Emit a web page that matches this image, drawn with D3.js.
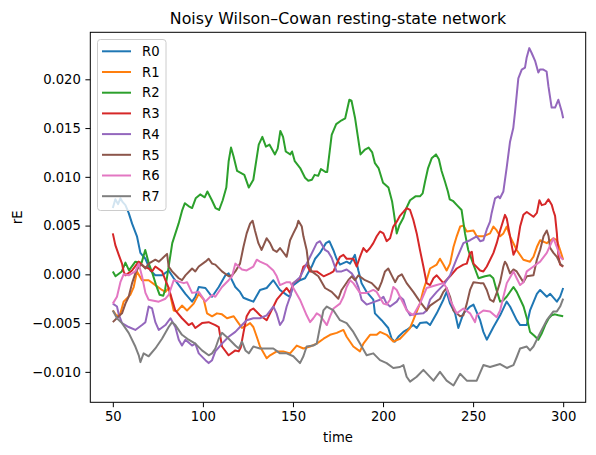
<!DOCTYPE html>
<html>
<head>
<meta charset="utf-8">
<script src="https://cdn.jsdelivr.net/npm/d3@7"></script>
<style>
  body { margin: 0; background: #fff; }
  text { font-family: "DejaVu Sans", sans-serif; }
</style>
</head>
<body>
<div id="chart-area"></div>
<script>
// series names and colours (matplotlib tab10)
var names = ["R0", "R1", "R2", "R3", "R4", "R5", "R6", "R7"];
var colors = ["#1f77b4", "#ff7f0e", "#2ca02c", "#d62728", "#9467bd", "#8c564b", "#e377c2", "#7f7f7f"];

var xTicks = [50, 100, 150, 200, 250, 300];
var yTicks = [-0.010, -0.005, 0.000, 0.005, 0.010, 0.015, 0.020];

// [time, rE]
var r0 = [[50,0.0068],[51.4,0.0077],[52.9,0.0072],[54.2,0.0078],[55.5,0.0074],[57,0.0071],[58.8,0.0063],[60.7,0.0052],[63.4,0.0039],[65.3,0.0022],[68.1,0.0016],[70.8,0.0004],[73.6,-0.0001],[77.3,-0.0001],[81,0.0004],[83.8,-0.0004],[87.5,-0.0013],[90.3,-0.0020],[94,-0.0028],[95.8,-0.0023],[97.7,-0.0013],[101.4,-0.0014],[105.1,-0.0023],[108.8,-0.0013],[112.5,-0.0001],[114.3,0.0001],[118,-0.0013],[120.6,-0.0018],[122.5,-0.0024],[125.2,-0.0026],[128,-0.0028],[131.7,-0.0016],[135.4,-0.0014],[139.1,-0.0006],[142.8,-0.0016],[146.5,-0.0021],[148.4,-0.0023],[150.2,-0.0011],[153.9,-0.0006],[156.7,-0.0004],[160.4,0.0008],[162.3,0.0016],[165,0.0022],[168.3,0.0032],[170.2,0.0034],[172.4,0.0025],[174.2,0.0016],[176.1,0.0010],[179.8,0.0013],[181.7,0.0011],[184.4,0.0020],[186.3,0.0004],[188.1,-0.0009],[190.9,-0.0018],[194.6,-0.0026],[195.5,-0.0040],[199.2,-0.0047],[202.9,-0.0055],[204.8,-0.0066],[206.6,-0.0069],[208.5,-0.0064],[211.3,-0.0059],[213.1,-0.0057],[216.8,-0.0052],[218.7,-0.0055],[220.5,-0.0050],[224.2,-0.0049],[226.1,-0.0052],[229.8,-0.0040],[233.5,-0.0026],[235.3,-0.0018],[237.2,-0.0030],[240,-0.0040],[241.8,-0.0055],[244.6,-0.0040],[248.3,-0.0033],[250.2,-0.0031],[253.9,-0.0047],[255.7,-0.0059],[257.6,-0.0067],[261.3,-0.0054],[265,-0.0042],[268.6,-0.0028],[270.5,-0.0033],[274.2,-0.0047],[276.1,-0.0052],[279.8,-0.0052],[281.6,-0.0037],[285.4,-0.0020],[287.2,-0.0016],[290.9,-0.0023],[292.8,-0.0020],[296.5,-0.0028],[298.3,-0.0023],[300,-0.0014]];

var r1 = [[50,-0.0037],[52.3,-0.0043],[54.2,-0.0040],[56,-0.0028],[59.7,-0.0021],[61.6,-0.0013],[63.4,0.0003],[66.2,-0.0006],[69.9,-0.0006],[73.6,-0.0011],[77.3,-0.0016],[79.2,-0.0018],[81,-0.0014],[83.8,-0.0037],[85.6,-0.0038],[88.4,-0.0032],[91.2,-0.0037],[94.9,-0.0030],[97.7,-0.0020],[100.5,-0.0026],[102.3,-0.0040],[105.1,-0.0043],[107.8,-0.0040],[110.6,-0.0041],[113.4,-0.0045],[117.1,-0.0043],[119,-0.0048],[121.7,-0.0055],[124.5,-0.0052],[126.2,-0.0050],[128,-0.0054],[129.9,-0.0064],[131.7,-0.0074],[135.4,-0.0086],[137.3,-0.0083],[141,-0.0079],[144.6,-0.0079],[148.4,-0.0081],[152.1,-0.0073],[155.8,-0.0076],[159.5,-0.0074],[163.2,-0.0071],[167,-0.0066],[170.6,-0.0062],[174.3,-0.0060],[178,-0.0057],[179.8,-0.0064],[183.5,-0.0074],[187.2,-0.0079],[189.1,-0.0071],[192.8,-0.0062],[196.5,-0.0062],[198.3,-0.0059],[202,-0.0062],[205.7,-0.0069],[209.4,-0.0066],[213.1,-0.0059],[215,-0.0055],[216.8,-0.0047],[220.5,-0.0030],[222.4,-0.0016],[224.2,-0.0006],[226.1,0.0006],[229.8,0.0010],[231.6,0.0016],[233.5,0.0010],[235.3,0.0004],[237.2,0.0011],[239.1,0.0028],[240.9,0.0039],[242.8,0.0049],[244.6,0.0050],[246.5,0.0044],[250.2,0.0045],[252,0.0039],[255.7,0.0039],[259.4,0.0042],[261.3,0.0049],[263.1,0.0045],[265,0.0039],[266.8,0.0042],[268.7,0.0049],[270.5,0.0039],[274.2,0.0025],[277.9,0.0015],[281.6,0.0013],[283.5,0.0018],[285.4,0.0028],[287.2,0.0035],[290.9,0.0032],[294.6,0.0037],[296.5,0.0035],[298.3,0.0025],[300,0.0015]];

var r2 = [[50,0.0003],[51.5,-0.0002],[55,0.0003],[57,0.0012],[59,0.0004],[62.5,0.0013],[66,0.0012],[68,0.0025],[70,0.0011],[72,0.0001],[74,-0.0011],[76,-0.0021],[78,-0.0022],[79,-0.0016],[81,0.0008],[83,0.0032],[86.5,0.0052],[88.4,0.0065],[90,0.0073],[92,0.0070],[94,0.0068],[96,0.0078],[98.5,0.0082],[101,0.0079],[102.5,0.0085],[105,0.0076],[107,0.0068],[109,0.0066],[111,0.0076],[113,0.0089],[114.3,0.0116],[115.6,0.0130],[117,0.0121],[119,0.0106],[121,0.0104],[123,0.0102],[125.5,0.0089],[128,0.0097],[131,0.0133],[133,0.0141],[135,0.0131],[137,0.0133],[140,0.0123],[141.5,0.0129],[143,0.0147],[144.5,0.0141],[146,0.0126],[148.5,0.0123],[149.5,0.0126],[151,0.0116],[154,0.0109],[156.7,0.0099],[158.5,0.0096],[160.5,0.0097],[162,0.0102],[164,0.0101],[165.5,0.0108],[168,0.0105],[169,0.0105],[171.5,0.0143],[174,0.0154],[177,0.0158],[179,0.0160],[181.3,0.0179],[182.5,0.0178],[184.5,0.0160],[187.5,0.0123],[190,0.0128],[192,0.0130],[194,0.0125],[195.5,0.0114],[197.5,0.0109],[200,0.0094],[203,0.0089],[205,0.0075],[206,0.0063],[207.6,0.0042],[209,0.0050],[211.3,0.0058],[213,0.0068],[215,0.0076],[218,0.0080],[220.5,0.0080],[222,0.0083],[223.3,0.0095],[225,0.0109],[227,0.0119],[229.4,0.0123],[231,0.0118],[232.5,0.0106],[234.4,0.0095],[236,0.0085],[237,0.0077],[239,0.0075],[241,0.0071],[243.6,0.0066],[245.5,0.0042],[247.3,0.0025],[250,0.0011],[253,-0.0004],[256.6,-0.0002],[259.4,-0.0001],[261.2,-0.0004],[263,-0.0016],[265,-0.0028],[266.5,-0.0027],[268.6,-0.0023],[272.4,-0.0013],[274.2,-0.0018],[276,-0.0025],[278,-0.0033],[280,-0.0046],[281.6,-0.0059],[284,-0.0063],[286.2,-0.0067],[288,-0.0061],[290,-0.0052],[292,-0.0045],[293.6,-0.0042],[295.5,-0.0041],[297.3,-0.0042],[300,-0.0043]];

var r3 = [[50,0.0042],[51.4,0.0030],[53.3,0.0020],[55.1,0.0011],[56,0.0003],[57,-0.0001],[60.7,0.0004],[64.4,0.0013],[67.1,0.0008],[69.9,0.0006],[71.8,0.0003],[73.6,0.0008],[77.3,0.0003],[79.2,-0.0006],[81,-0.0014],[82.9,-0.0026],[84.7,-0.0037],[88.4,-0.0045],[92.1,-0.0052],[94,-0.0050],[95.8,-0.0055],[99.5,-0.0050],[103.2,-0.0049],[106.9,-0.0052],[108.8,-0.0054],[110.6,-0.0074],[114.3,-0.0083],[118,-0.0078],[119.9,-0.0079],[121,-0.0075],[122.5,-0.0060],[124.3,-0.0043],[126.2,-0.0037],[128,-0.0035],[131.7,-0.0042],[135.4,-0.0047],[137.3,-0.0040],[141,-0.0026],[144.6,-0.0018],[146.5,-0.0014],[148.4,-0.0019],[150.2,-0.0009],[153.9,-0.0004],[155.8,0.0008],[157.6,0.0010],[159.5,0.0003],[163.2,0.0003],[167,-0.0002],[170.6,0.0001],[172.5,0.0003],[174.3,0.0011],[176.1,0.0018],[178,0.0020],[179.8,0.0016],[183.5,0.0016],[185.4,0.0008],[187.2,0.0018],[189.1,0.0027],[190.9,0.0023],[192.8,0.0027],[194.6,0.0032],[196.5,0.0039],[198.3,0.0044],[200.2,0.0042],[202,0.0034],[203.9,0.0037],[205.7,0.0049],[207.6,0.0054],[209.4,0.0060],[211.3,0.0064],[213.1,0.0068],[215,0.0066],[216.8,0.0056],[218.7,0.0042],[220.5,0.0025],[222.4,0.0008],[224.2,-0.0009],[226.1,-0.0011],[228,-0.0004],[229.8,-0.0001],[233.5,-0.0009],[237.2,-0.0002],[240.9,0.0006],[244.6,0.0010],[246.5,0.0011],[248.3,0.0022],[249.3,0.0023],[250.2,0.0011],[253.9,0.0004],[255.7,0.0003],[257.6,0.0008],[261.3,0.0022],[263.1,0.0032],[265,0.0045],[267.7,0.0061],[268.7,0.0057],[270.5,0.0039],[272.4,0.0020],[274.2,0.0027],[276.1,0.0049],[277.9,0.0061],[279.8,0.0064],[283.5,0.0059],[285.4,0.0063],[286.8,0.0076],[288.1,0.0071],[290,0.0072],[291.8,0.0077],[293.7,0.0071],[294.6,0.0065],[295.5,0.0060],[296.5,0.0042],[297.4,0.0018],[298.3,0.0010],[300,0.0008]];

var r4 = [[50,-0.0030],[52.3,-0.0033],[53.3,-0.0041],[55.1,-0.0050],[58.8,-0.0054],[62.5,-0.0057],[66.2,-0.0052],[68.1,-0.0049],[69.9,-0.0033],[71.8,-0.0035],[73.6,-0.0049],[75.5,-0.0057],[79.2,-0.0052],[82,-0.0045],[84.7,-0.0054],[86.6,-0.0067],[88.4,-0.0073],[90.3,-0.0067],[94,-0.0073],[95.8,-0.0071],[97.7,-0.0081],[101.4,-0.0088],[103.2,-0.0091],[105.1,-0.0088],[106.9,-0.0079],[110.6,-0.0071],[114.3,-0.0064],[118,-0.0059],[120.6,-0.0054],[124.3,-0.0047],[128,-0.0045],[131.7,-0.0045],[135.4,-0.0042],[139.1,-0.0033],[140.9,-0.0040],[142.8,-0.0052],[144.6,-0.0047],[146.5,-0.0033],[148.4,-0.0023],[150.2,-0.0009],[153.9,-0.0003],[157.6,0.0011],[159.5,0.0018],[163.2,0.0032],[165,0.0034],[167.8,0.0025],[169.6,0.0023],[171.5,0.0017],[174.2,0.0003],[177,0.0003],[179.8,0.0005],[182.6,0.0001],[184.4,-0.0004],[186.3,-0.0013],[188.1,-0.0026],[190.9,-0.0031],[195.5,-0.0028],[198.3,-0.0026],[200.2,-0.0023],[202,-0.0030],[203.9,-0.0033],[207.6,-0.0028],[209.4,-0.0023],[211.3,-0.0026],[213.1,-0.0036],[215,-0.0042],[216.8,-0.0041],[222.4,-0.0040],[224.2,-0.0037],[226.1,-0.0026],[229.8,-0.0018],[233.5,-0.0011],[237.2,-0.0001],[240.9,0.0016],[244.6,0.0032],[248.3,0.0035],[252,0.0039],[253.9,0.0034],[255.7,0.0035],[257.6,0.0046],[259.4,0.0054],[260.3,0.0063],[262.2,0.0078],[264,0.0080],[264.9,0.0078],[266.8,0.0085],[268.6,0.0109],[270.5,0.0136],[272.3,0.0150],[273.3,0.0167],[275.1,0.0201],[277,0.0210],[278.8,0.0212],[279.7,0.0222],[281.2,0.0232],[282.5,0.0227],[284.4,0.0219],[286.2,0.0207],[287.1,0.0210],[289,0.0210],[290.8,0.0208],[291.8,0.0193],[293.6,0.0171],[295.5,0.0171],[297.3,0.0179],[299.2,0.0167],[300,0.0160]];

var r5 = [[50,-0.0049],[53.3,-0.0043],[55.1,-0.0040],[57,-0.0030],[58.8,-0.0023],[60.7,-0.0009],[62.5,0.0001],[64.4,0.0008],[66.2,0.0010],[68.1,0.0006],[69.9,0.0011],[73.6,0.0015],[75.5,0.0013],[77.3,0.0016],[80.1,0.0021],[81,0.0008],[82.9,0.0003],[86.6,-0.0004],[88.4,-0.0006],[90.3,-0.0001],[94,0.0006],[95.8,0.0003],[97.7,0.0008],[101.4,0.0013],[103.2,0.0016],[105.1,0.0011],[106.9,0.0010],[110.6,0.0003],[114.3,-0.0002],[116.2,-0.0001],[118,0.0003],[120.6,0.0011],[122.5,0.0028],[124.3,0.0042],[126.2,0.0052],[127.6,0.0055],[128.9,0.0045],[130.8,0.0032],[132.6,0.0025],[135.4,0.0037],[137.3,0.0032],[139.1,0.0025],[141,0.0023],[142.8,0.0027],[146.5,0.0018],[148.4,0.0035],[150.2,0.0042],[152.1,0.0049],[153,0.0055],[154.9,0.0049],[155.8,0.0039],[157.6,0.0025],[158.6,0.0010],[160.4,0.0003],[164.1,-0.0002],[167.8,-0.0014],[171.5,-0.0018],[175.2,-0.0025],[177,-0.0016],[180.7,-0.0006],[182.6,-0.0002],[184.4,-0.0006],[186.3,-0.0001],[190,-0.0006],[193.7,-0.0009],[197.4,-0.0016],[199.2,-0.0008],[201.1,0.0003],[202.9,0.0006],[204.8,-0.0001],[206.7,-0.0008],[208.5,-0.0002],[210.4,0.0000],[213.1,-0.0009],[216.8,-0.0018],[220.5,-0.0028],[224.2,-0.0037],[226.1,-0.0032],[231.6,-0.0025],[233.5,-0.0018],[235.3,-0.0014],[237.2,-0.0023],[239.1,-0.0037],[242.8,-0.0043],[244.6,-0.0042],[246.5,-0.0030],[248.3,-0.0016],[250.2,-0.0008],[253.9,-0.0009],[255.7,-0.0009],[257.6,-0.0016],[259.4,-0.0026],[261.3,-0.0028],[263.1,-0.0019],[265,-0.0008],[266.8,0.0008],[267.7,0.0013],[268.7,0.0010],[270.5,0.0001],[272.4,0.0005],[274.2,0.0003],[277.9,-0.0008],[279.8,-0.0002],[283.5,-0.0001],[285.4,0.0015],[287.2,0.0025],[289.1,0.0039],[290.9,0.0045],[291.9,0.0039],[292.8,0.0027],[294.6,0.0022],[296.5,0.0018],[298.3,0.0011],[300,0.0008]];

var r6 = [[50,-0.0030],[52.3,-0.0023],[54.2,-0.0008],[56,0.0000],[58.8,-0.0001],[62.5,0.0003],[64.4,0.0011],[66.2,-0.0002],[68.1,-0.0019],[69.9,-0.0026],[75.5,-0.0028],[79.2,-0.0025],[81,-0.0021],[83.8,-0.0006],[87.5,-0.0008],[89.4,-0.0009],[91.2,-0.0008],[94,-0.0019],[97.7,-0.0018],[101.4,-0.0028],[105.1,-0.0021],[106.9,-0.0023],[110.6,-0.0013],[114.3,-0.0006],[116.2,-0.0002],[118,0.0011],[121.7,0.0005],[124.3,0.0004],[128,0.0008],[129.9,0.0015],[131.7,0.0013],[135.4,0.0010],[139.1,0.0004],[141,-0.0002],[142.8,-0.0011],[146.5,-0.0008],[148.4,-0.0008],[150.2,-0.0014],[153.9,-0.0026],[157.6,-0.0042],[159.5,-0.0049],[161.3,-0.0045],[163.2,-0.0040],[165,-0.0042],[168.8,-0.0052],[170.6,-0.0043],[172.5,-0.0035],[176.1,-0.0030],[178,-0.0023],[179.8,-0.0013],[181.7,-0.0006],[183.5,-0.0009],[187.2,-0.0019],[190.9,-0.0019],[194.6,-0.0016],[196.5,-0.0018],[200.2,-0.0030],[202,-0.0031],[203.9,-0.0026],[205.7,-0.0013],[207.6,-0.0016],[209.4,-0.0023],[211.3,-0.0030],[213.1,-0.0037],[216.8,-0.0042],[220.5,-0.0030],[224.2,-0.0014],[229.8,-0.0011],[233.5,-0.0009],[235.3,-0.0014],[237.2,-0.0026],[240.9,-0.0040],[244.6,-0.0035],[248.3,-0.0040],[251.1,-0.0049],[252,-0.0042],[255.7,-0.0037],[259.4,-0.0038],[263.1,-0.0044],[265,-0.0037],[266.8,-0.0023],[268.7,-0.0009],[272.4,0.0003],[274.2,-0.0004],[276.1,-0.0011],[277.9,-0.0008],[279.8,0.0003],[283.5,0.0008],[287.2,0.0013],[290.9,0.0022],[294.6,0.0037],[296.5,0.0028],[298.3,0.0018],[300,0.0015]];

var r7 = [[50,-0.0037],[52.3,-0.0045],[55.1,-0.0050],[58.8,-0.0060],[62.5,-0.0074],[64.4,-0.0083],[65.3,-0.0090],[67.1,-0.0081],[69.9,-0.0084],[73.6,-0.0076],[77.3,-0.0066],[81,-0.0054],[82.9,-0.0049],[84.7,-0.0052],[88.4,-0.0062],[92.1,-0.0067],[95.8,-0.0071],[99.5,-0.0078],[103.2,-0.0083],[105.1,-0.0081],[106.9,-0.0076],[108.8,-0.0066],[110.6,-0.0060],[114.3,-0.0066],[118,-0.0073],[119.9,-0.0076],[121.7,-0.0069],[123.6,-0.0078],[125.5,-0.0081],[128,-0.0074],[131.7,-0.0076],[135.4,-0.0076],[139.1,-0.0076],[142.8,-0.0081],[146.5,-0.0081],[150.2,-0.0084],[153.9,-0.0091],[155.8,-0.0084],[157.6,-0.0074],[161.3,-0.0073],[163.2,-0.0071],[165,-0.0054],[166.9,-0.0037],[168.8,-0.0033],[172.5,-0.0037],[176.1,-0.0047],[179.8,-0.0050],[183.5,-0.0059],[187.2,-0.0071],[190.9,-0.0083],[194.6,-0.0081],[198.3,-0.0088],[202,-0.0091],[205.7,-0.0096],[209.4,-0.0095],[211.3,-0.0093],[213.1,-0.0105],[215,-0.0110],[218.7,-0.0105],[222.4,-0.0098],[228,-0.0109],[231.6,-0.0100],[235.3,-0.0109],[239.1,-0.0114],[242.8,-0.0102],[246.5,-0.0109],[252,-0.0109],[255.7,-0.0093],[259.4,-0.0095],[265,-0.0092],[268.7,-0.0096],[272.4,-0.0093],[274.2,-0.0085],[276.1,-0.0076],[279.8,-0.0074],[281.6,-0.0078],[283.5,-0.0074],[287.2,-0.0060],[290.9,-0.0047],[294.6,-0.0038],[296.5,-0.0038],[298.3,-0.0033],[300,-0.0025]];

var series = [r0, r1, r2, r3, r4, r5, r6, r7];

var W = 596, H = 455;
var plot = { left: 90.3, right: 585.7, top: 32.3, bottom: 402.3 };

var svg = d3.select("#chart-area").append("svg")
    .attr("width", W)
    .attr("height", H);

var x = d3.scaleLinear()
    .domain([37.5, 312.5])
    .range([plot.left, plot.right]);

var y = d3.scaleLinear()
    .domain([-0.01312, 0.02482])
    .range([plot.bottom, plot.top]);

var line = d3.line()
    .x(d => x(d[0]))
    .y(d => y(d[1]));

// lines
svg.append("g").selectAll("path")
    .data(series)
    .enter()
    .append("path")
    .attr("d", line)
    .attr("fill", "none")
    .attr("stroke", (d, i) => colors[i])
    .attr("stroke-width", 2)
    .attr("stroke-linejoin", "round");

// axes
var xAxis = svg.append("g")
    .attr("transform", `translate(0,${plot.bottom})`)
    .call(d3.axisBottom(x).tickValues(xTicks).tickSize(4.9).tickPadding(4).tickSizeOuter(0));
var yAxis = svg.append("g")
    .attr("transform", `translate(${plot.left},0)`)
    .call(d3.axisLeft(y).tickValues(yTicks).tickFormat(d3.format(".3f")).tickSize(4.9).tickPadding(4.5).tickSizeOuter(0));

[xAxis, yAxis].forEach(g => {
    g.select(".domain").remove();
    g.selectAll("line").attr("stroke", "#000").attr("stroke-width", 1);
    g.selectAll("text")
        .attr("fill", "#000")
        .style("font-family", "DejaVu Sans")
        .style("font-size", "13.2px");
});

// frame
svg.append("rect")
    .attr("x", plot.left)
    .attr("y", plot.top)
    .attr("width", plot.right - plot.left)
    .attr("height", plot.bottom - plot.top)
    .attr("fill", "none")
    .attr("stroke", "#000")
    .attr("stroke-width", 1);

// title and labels
svg.append("text")
    .attr("x", (plot.left + plot.right) / 2)
    .attr("y", 23.5)
    .attr("text-anchor", "middle")
    .attr("font-size", "15.8px")
    .text("Noisy Wilson\u2013Cowan resting-state network");

svg.append("text")
    .attr("x", (plot.left + plot.right) / 2)
    .attr("y", 442)
    .attr("text-anchor", "middle")
    .attr("font-size", "13.2px")
    .text("time");

svg.append("text")
    .attr("transform", `translate(22,${(plot.top + plot.bottom) / 2}) rotate(-90)`)
    .attr("text-anchor", "middle")
    .attr("font-size", "13.2px")
    .text("rE");

// legend
var leg = svg.append("g");
leg.append("rect")
    .attr("x", 97.5)
    .attr("y", 39.5)
    .attr("width", 68.5)
    .attr("height", 171)
    .attr("rx", 3)
    .attr("fill", "#fff")
    .attr("fill-opacity", 0.8)
    .attr("stroke", "#cccccc")
    .attr("stroke-width", 1);

var rows = leg.selectAll("g.row")
    .data(names)
    .enter()
    .append("g")
    .attr("class", "row")
    .attr("transform", (d, i) => `translate(0,${51.3 + i * 20.7})`);

rows.append("line")
    .attr("x1", 102)
    .attr("x2", 131)
    .attr("stroke", (d, i) => colors[i])
    .attr("stroke-width", 2);

rows.append("text")
    .attr("x", 142)
    .attr("dy", "0.36em")
    .attr("font-size", "13.2px")
    .text(d => d);
</script>
</body>
</html>
